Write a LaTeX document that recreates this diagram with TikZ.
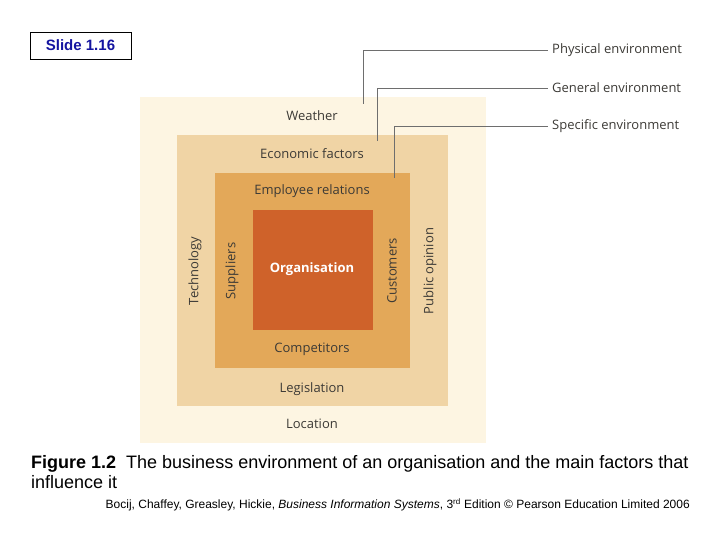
\documentclass[tikz,border=0pt]{standalone}
\usepackage{fontspec}
\setmainfont{Liberation Sans}
\newfontfamily\figfont{Open Sans}
\usepackage{xcolor}
\usepackage{tikz}
\usetikzlibrary{positioning}

\definecolor{physcol}{HTML}{FDF5E2}
\definecolor{gencol}{HTML}{F0D4A5}
\definecolor{speccol}{HTML}{E3A859}
\definecolor{orgcol}{HTML}{CF622A}
\definecolor{labelgray}{HTML}{3C3A36}
\definecolor{linegray}{HTML}{6E6E6E}
\definecolor{slideblue}{HTML}{1414A0}

\begin{document}
\begin{tikzpicture}[x=1pt, y=-1pt,
  zone/.style={rectangle, inner sep=0pt, anchor=north west},
  factor/.style={font=\figfont\fontsize{13}{15}\selectfont, text=labelgray, inner sep=0pt},
  envlabel/.style={font=\figfont\fontsize{13}{15}\selectfont, text=labelgray, anchor=west, inner sep=4pt},
  callout/.style={draw=linegray, line width=0.9pt}
]
\useasboundingbox (0,0) rectangle (720,540);

% Slide label
\node[draw, line width=0.8pt, minimum width=101pt, minimum height=27pt, inner sep=0pt,
  font=\bfseries\fontsize{15}{18}\selectfont, text=slideblue] (slide) at (80.5,45.5) {Slide 1.16};

% Nested zones
\node[zone, fill=physcol, minimum width=346pt, minimum height=346pt] (physical) at (140,97) {};
\node[zone, fill=gencol, minimum width=271pt, minimum height=271pt] (general) at (177,135) {};
\node[zone, fill=speccol, minimum width=195pt, minimum height=195pt] (specific) at (215,173) {};
\node[zone, fill=orgcol, minimum width=120pt, minimum height=120pt] (org) at (253,210) {};

% Factors
\node[factor] (weather) at (312,116) {Weather};
\node[factor] (economic) at (312,154) {Economic factors};
\node[factor] (employee) at (312,191) {Employee relations};
\node[factor, text=white, font=\figfont\bfseries\fontsize{13}{15}\selectfont] (orgname) at (312,269) {Organisation};
\node[factor] (competitors) at (312,349) {Competitors};
\node[factor] (legislation) at (312,389) {Legislation};
\node[factor] (location) at (312,424) {Location};
\node[factor, rotate=90] (technology) at (195,271) {Technology};
\node[factor, rotate=90] (suppliers) at (232,271) {Suppliers};
\node[factor, rotate=90] (customers) at (392,271) {Customers};
\node[factor, rotate=90] (public) at (430,271) {Public opinion};

% Environment labels
\node[envlabel] (physlabel) at (548,50) {Physical environment};
\node[envlabel] (genlabel) at (548,88) {General environment};
\node[envlabel] (speclabel) at (548,126) {Specific environment};

% Callouts
\coordinate (physpin) at (363,104);
\coordinate (genpin) at (377,141);
\coordinate (specpin) at (394,178);
\draw[callout] (physpin) |- (physlabel.west);
\draw[callout] (genpin) |- (genlabel.west);
\draw[callout] (specpin) |- (speclabel.west);

% Caption
\node[anchor=north west, align=left, inner sep=0pt, font=\fontsize{18}{20.5}\selectfont] (caption) at (31,455)
  {\textbf{Figure 1.2}\ \ The business environment of an organisation and the main factors that\\influence it};
\node[anchor=east, inner sep=0pt, font=\fontsize{12}{14}\selectfont] (credit) at (690,505)
  {Bocij, Chaffey, Greasley, Hickie, \textit{Business Information Systems}, 3\textsuperscript{rd} Edition \textcopyright{} Pearson Education Limited 2006};

\end{tikzpicture}
\end{document}
